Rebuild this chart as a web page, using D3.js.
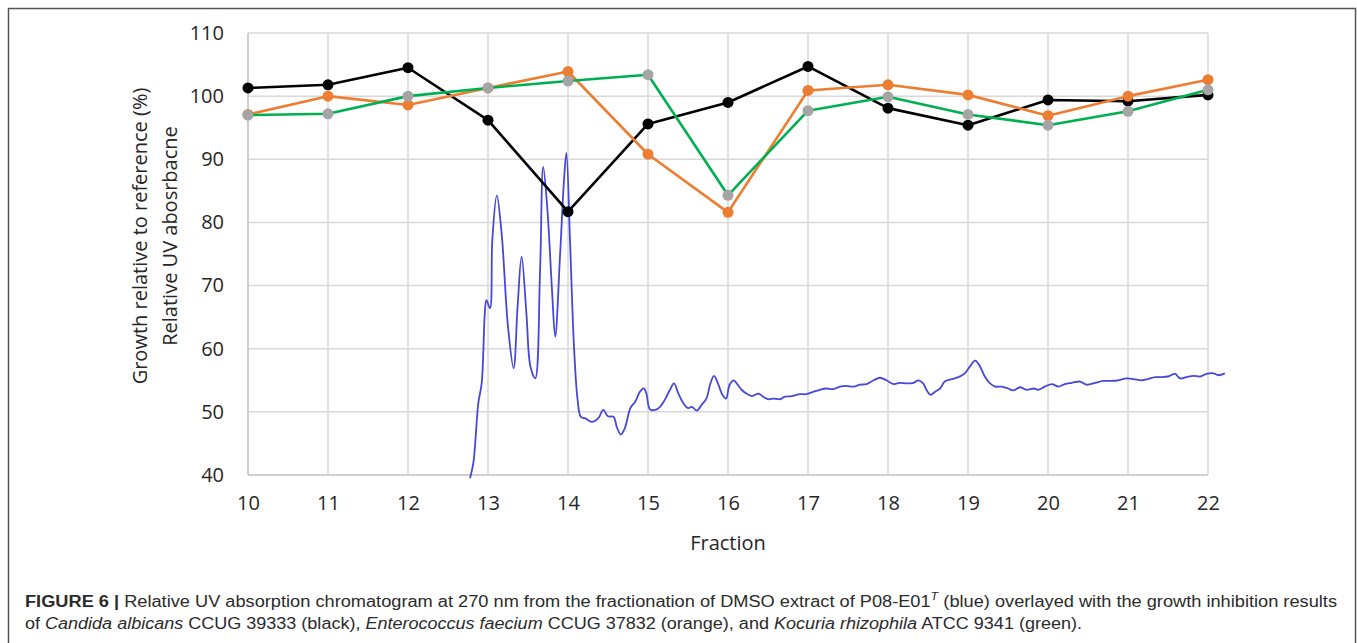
<!DOCTYPE html>
<html>
<head>
<meta charset="utf-8">
<script src="https://cdn.jsdelivr.net/npm/d3@7"></script>
<style>
  html, body { margin: 0; padding: 0; background: #fff; }
  svg { display: block; }
</style>
</head>
<body>
<svg id="chart" width="1357" height="643"></svg>
<script>
// ---------------- DATA ----------------
const fractions = [10, 11, 12, 13, 14, 15, 16, 17, 18, 19, 20, 21, 22];
const candidaAlbicans = [101.3, 101.8, 104.5, 96.2, 81.7, 95.6, 99.0, 104.7, 98.1, 95.4, 99.4, 99.2, 100.2];
const enterococcusFaecium = [97.1, 100.0, 98.6, 101.3, 103.9, 90.8, 81.6, 100.9, 101.8, 100.2, 96.9, 100.0, 102.6];
const kocuriaRhizophila = [97.0, 97.2, 100.0, 101.3, 102.4, 103.4, 84.3, 97.7, 99.9, 97.1, 95.4, 97.6, 101.0];

const uvFraction = [12.775, 12.817, 12.879, 12.921, 12.96, 12.98, 13.025, 13.054, 13.11, 13.17, 13.25, 13.32, 13.37, 13.42, 13.48, 13.53, 13.59, 13.65, 13.69, 13.74, 13.80, 13.84, 13.90, 13.95, 13.98, 14.025, 14.075, 14.12, 14.16, 14.21, 14.30, 14.38, 14.44, 14.50, 14.57, 14.61, 14.66, 14.71, 14.78, 14.84, 14.90, 14.95, 14.98, 15.025, 15.09, 15.15, 15.21, 15.275, 15.325, 15.38, 15.44, 15.50, 15.55, 15.61, 15.67, 15.73, 15.78, 15.825, 15.88, 15.93, 15.975, 16.02, 16.07, 16.12, 16.17, 16.23, 16.30, 16.38, 16.44, 16.50, 16.57, 16.65, 16.71, 16.80, 16.90, 16.98, 17.07, 17.15, 17.23, 17.32, 17.40, 17.48, 17.57, 17.65, 17.73, 17.82, 17.90, 17.98, 18.07, 18.15, 18.23, 18.32, 18.38, 18.44, 18.48, 18.53, 18.59, 18.65, 18.71, 18.80, 18.88, 18.96, 19.025, 19.09, 19.15, 19.21, 19.275, 19.34, 19.42, 19.50, 19.57, 19.65, 19.73, 19.82, 19.88, 19.96, 20.05, 20.13, 20.21, 20.30, 20.40, 20.48, 20.59, 20.69, 20.78, 20.88, 20.98, 21.07, 21.17, 21.25, 21.34, 21.42, 21.50, 21.59, 21.65, 21.73, 21.82, 21.90, 21.98, 22.07, 22.13, 22.21];
const uvValue = [39.5, 41.9, 51.4, 54.5, 65.6, 67.7, 66.4, 77.2, 84.3, 78.3, 63.5, 56.9, 66.7, 74.6, 65.6, 57.2, 55.3, 71.9, 88.8, 82.5, 69.3, 61.9, 74.6, 86.7, 91.0, 77.2, 60.3, 51.9, 49.2, 49.0, 48.4, 49.0, 50.3, 49.3, 49.2, 47.6, 46.4, 47.4, 50.6, 51.6, 53.2, 53.7, 52.9, 50.4, 50.3, 50.8, 51.9, 53.5, 54.5, 52.9, 51.4, 50.6, 50.8, 50.2, 51.1, 52.1, 54.5, 55.7, 54.3, 52.7, 52.1, 54.3, 55.0, 54.3, 53.5, 52.9, 52.5, 52.9, 52.4, 52.0, 52.1, 52.0, 52.4, 52.5, 52.8, 52.8, 53.2, 53.5, 53.7, 53.6, 54.0, 54.1, 54.0, 54.3, 54.4, 55.0, 55.4, 55.0, 54.4, 54.6, 54.5, 54.6, 55.0, 54.5, 53.5, 52.7, 53.2, 53.7, 54.8, 55.2, 55.5, 56.1, 57.2, 58.1, 57.2, 55.6, 54.5, 54.0, 54.0, 53.7, 53.4, 53.9, 53.5, 53.7, 53.5, 54.0, 54.4, 54.0, 54.4, 54.6, 54.8, 54.3, 54.6, 54.9, 54.9, 55.0, 55.3, 55.2, 55.0, 55.2, 55.5, 55.5, 55.6, 56.0, 55.3, 55.5, 55.7, 55.6, 56.0, 56.1, 55.8, 56.1];

const yTicks = [40, 50, 60, 70, 80, 90, 100, 110];
const xTicks = [10, 11, 12, 13, 14, 15, 16, 17, 18, 19, 20, 21, 22];

const seriesNames = ["Candida albicans", "Enterococcus faecium", "Kocuria rhizophila"];
const seriesLineColors = ["#000000", "#ED7D31", "#00B050"];
const seriesMarkerColors = ["#000000", "#ED7D31", "#A5A5A5"];
const uvColor = "#4747DB";

// ---------------- LAYOUT ----------------
const svg = d3.select("#chart");
const plot = { left: 248, right: 1208, top: 33, bottom: 475 };

const x = d3.scaleLinear().domain([10, 22]).range([plot.left, plot.right]);
const y = d3.scaleLinear().domain([40, 110]).range([plot.bottom, plot.top]);

// Outer figure border
svg.append("rect")
  .attr("x", 8.5).attr("y", 8.5)
  .attr("width", 1347).attr("height", 700)
  .attr("fill", "none").attr("stroke", "#555").attr("stroke-width", 1.5);

// Gridlines
const g = svg.append("g");
g.selectAll("line.hgrid").data(yTicks).join("line")
  .attr("class", "hgrid")
  .attr("x1", plot.left).attr("x2", plot.right)
  .attr("y1", d => y(d)).attr("y2", d => y(d))
  .attr("stroke", d => d === 40 ? "#BFBFBF" : "#D9D9D9").attr("stroke-width", 1.5);
g.selectAll("line.vgrid").data(xTicks).join("line")
  .attr("class", "vgrid")
  .attr("x1", d => x(d)).attr("x2", d => x(d))
  .attr("y1", plot.top).attr("y2", plot.bottom)
  .attr("stroke", d => d === 10 ? "#BFBFBF" : "#D9D9D9").attr("stroke-width", 1.5);

// Axes (labels only, via d3 axes)
const yAxis = svg.append("g")
  .attr("transform", `translate(${plot.left},0)`)
  .call(d3.axisLeft(y).tickValues(yTicks).tickSize(0).tickPadding(24).tickFormat(d3.format("d")));
yAxis.select(".domain").remove();
yAxis.selectAll("text").attr("font-family", "'Open Sans', sans-serif").attr("font-size", 20).attr("fill", "#262626");

const xAxis = svg.append("g")
  .attr("transform", `translate(0,${plot.bottom})`)
  .call(d3.axisBottom(x).tickValues(xTicks).tickSize(0).tickPadding(21).tickFormat(d3.format("d")));
xAxis.select(".domain").remove();
xAxis.selectAll("text").attr("font-family", "'Open Sans', sans-serif").attr("font-size", 20).attr("fill", "#262626");

// Axis titles
svg.append("text")
  .attr("x", x(16)).attr("y", 550)
  .attr("text-anchor", "middle")
  .attr("font-family", "'Open Sans', sans-serif").attr("font-size", 20).attr("fill", "#262626")
  .text("Fraction");

const yt = svg.append("text")
  .attr("transform", `translate(0,236) rotate(-90)`)
  .attr("text-anchor", "middle")
  .attr("font-family", "'Open Sans', sans-serif").attr("font-size", 20).attr("fill", "#262626");
yt.append("tspan").attr("x", 0).attr("y", 147).text("Growth relative to reference (%)");
yt.append("tspan").attr("x", 0).attr("y", 177).text("Relative UV abosrbacne");

// UV chromatogram
const uvData = uvFraction.map((f, i) => ({ f, v: uvValue[i] }));
svg.append("path")
  .datum(uvData)
  .attr("fill", "none")
  .attr("stroke", uvColor)
  .attr("stroke-width", 1.8)
  .attr("stroke-linejoin", "round")
  .attr("d", d3.line().x(d => x(d.f)).y(d => y(d.v)).curve(d3.curveCatmullRom.alpha(0.5)));

// Growth series
const allSeries = [candidaAlbicans, enterococcusFaecium, kocuriaRhizophila];
allSeries.forEach((vals, si) => {
  const data = fractions.map((f, i) => ({ f, v: vals[i] }));
  const sg = svg.append("g").attr("class", "series");
  sg.append("path")
    .datum(data)
    .attr("fill", "none")
    .attr("stroke", seriesLineColors[si])
    .attr("stroke-width", 2.6)
    .attr("stroke-linejoin", "round")
    .attr("d", d3.line().x(d => x(d.f)).y(d => y(d.v)));
  sg.selectAll("circle").data(data).join("circle")
    .attr("cx", d => x(d.f)).attr("cy", d => y(d.v))
    .attr("r", 5.5)
    .attr("fill", seriesMarkerColors[si]);
});

// Caption
const cap = svg.append("g")
  .attr("font-family", "'Liberation Sans', Arial, sans-serif")
  .attr("font-size", 16)
  .attr("fill", "#2b2b2b");

const l1 = cap.append("text").attr("x", 25).attr("y", 607);
l1.append("tspan").attr("font-weight", "bold").text("FIGURE 6 | ");
l1.append("tspan").text("Relative UV absorption chromatogram at 270 nm from the fractionation of DMSO extract of P08-E01");
l1.append("tspan").attr("font-style", "italic").attr("font-size", 11).attr("dy", -7).text("T");
l1.append("tspan").attr("dy", 7).text(" (blue) overlayed with the growth inhibition results");

const l2 = cap.append("text").attr("x", 25).attr("y", 629);
l2.append("tspan").text("of ");
l2.append("tspan").attr("font-style", "italic").text("Candida albicans");
l2.append("tspan").text(" CCUG 39333 (black), ");
l2.append("tspan").attr("font-style", "italic").text("Enterococcus faecium");
l2.append("tspan").text(" CCUG 37832 (orange), and ");
l2.append("tspan").attr("font-style", "italic").text("Kocuria rhizophila");
l2.append("tspan").text(" ATCC 9341 (green).");

// Fit caption lines to reference widths
[[l1, 1312], [l2, 1057]].forEach(([t, w]) => {
  const cur = t.node().getComputedTextLength();
  if (cur > 0) t.attr("textLength", w).attr("lengthAdjust", "spacingAndGlyphs");
});
</script>
</body>
</html>
